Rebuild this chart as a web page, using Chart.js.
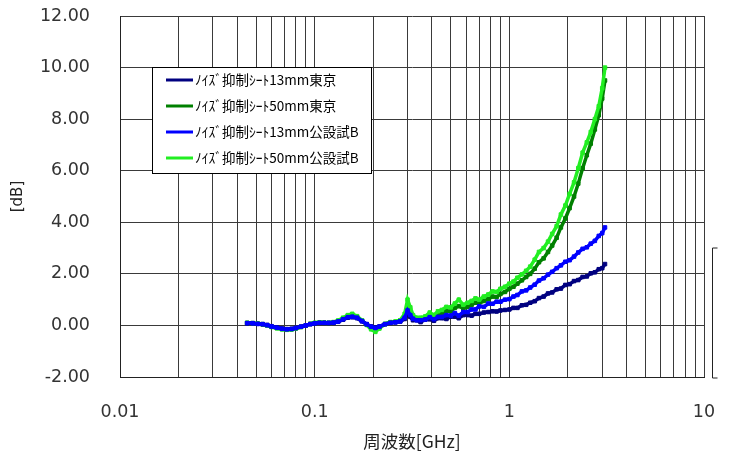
<!DOCTYPE html>
<html>
<head>
<meta charset="utf-8">
<script src="https://cdn.jsdelivr.net/npm/chart.js@4/dist/chart.umd.min.js"></script>
<style>
  html, body { margin: 0; padding: 0; background: #fff; }
  #wrap { width: 731px; height: 455px; position: relative; }
</style>
</head>
<body>
<div id="wrap"><canvas id="c" width="731" height="455"></canvas></div>
<script>
// Frequency points [GHz]
const freqGHz = [
  0.045,0.048,0.051,0.054,0.057,0.06,0.064,0.068,0.072,0.076,
  0.08,0.085,0.09,0.095,0.1,0.106,0.112,0.118,0.125,0.132,
  0.14,0.148,0.156,0.165,0.175,0.185,0.195,0.205,0.215,0.23,
  0.245,0.26,0.275,0.29,0.3,0.31,0.32,0.335,0.35,0.37,
  0.39,0.41,0.43,0.45,0.475,0.5,0.525,0.55,0.58,0.61,
  0.64,0.67,0.7,0.74,0.78,0.82,0.86,0.9,0.95,1.0,
  1.05,1.1,1.16,1.22,1.28,1.35,1.42,1.5,1.58,1.66,
  1.75,1.84,1.94,2.04,2.15,2.26,2.38,2.5,2.62,2.75,
  2.88,3.0,3.1
];

// Attenuation [dB] for each sheet / measurement site
const sheet13Tokyo = [
  0.08,0.09,0.06,0.05,0.02,-0.03,-0.08,-0.12,-0.14,-0.13,
  -0.1,-0.05,0.0,0.05,0.08,0.1,0.1,0.09,0.1,0.14,
  0.22,0.3,0.32,0.28,0.16,0.05,-0.04,-0.08,-0.04,0.05,
  0.1,0.12,0.15,0.25,
  0.42,0.33,0.2,0.2,0.13,0.22,0.24,0.18,0.28,0.28,
  0.25,0.34,0.34,0.28,0.4,0.4,0.38,0.45,0.45,0.5,
  0.52,0.55,0.54,0.58,0.6,0.62,0.68,0.68,0.78,0.8,
  0.88,0.94,1.06,1.12,1.24,1.28,1.4,1.43,1.57,1.6,
  1.72,1.76,1.88,1.9,2.02,2.06,2.18,2.22,2.38
];
const sheet50Tokyo = [
  0.1,0.08,0.07,0.04,0.0,-0.05,-0.1,-0.14,-0.16,-0.15,
  -0.11,-0.06,0.0,0.06,0.09,0.11,0.1,0.1,0.12,0.17,
  0.27,0.36,0.4,0.33,0.18,0.04,-0.1,-0.15,-0.08,0.05,
  0.12,0.14,0.18,0.35,
  0.7,0.48,0.3,0.22,0.22,0.28,0.4,0.3,0.42,0.45,
  0.55,0.55,0.68,0.75,0.65,0.72,0.8,0.88,0.85,0.95,
  1.02,1.12,1.1,1.22,1.3,1.42,1.5,1.62,1.75,1.88,
  2.0,2.2,2.45,2.6,2.85,3.1,3.4,3.8,4.15,4.55,
  5.0,5.5,6.1,6.6,7.05,7.6,8.15,8.8,9.5
];
const sheet13LabB = [
  0.09,0.08,0.06,0.05,0.01,-0.04,-0.09,-0.13,-0.15,-0.14,
  -0.1,-0.05,0.0,0.05,0.08,0.1,0.1,0.1,0.11,0.15,
  0.24,0.32,0.34,0.3,0.17,0.05,-0.05,-0.1,-0.05,0.05,
  0.1,0.12,0.16,0.3,
  0.58,0.4,0.26,0.2,0.2,0.23,0.32,0.24,0.33,0.33,
  0.4,0.38,0.48,0.38,0.52,0.52,0.62,0.62,0.74,0.72,
  0.85,0.84,0.92,0.92,1.0,1.02,1.12,1.18,1.32,1.36,
  1.47,1.58,1.74,1.83,1.97,2.08,2.22,2.33,2.47,2.53,
  2.67,2.83,2.97,3.03,3.17,3.28,3.47,3.58,3.8
];
const sheet50LabB = [
  0.1,0.09,0.07,0.05,0.0,-0.06,-0.11,-0.15,-0.17,-0.16,
  -0.12,-0.06,0.0,0.06,0.1,0.12,0.11,0.1,0.13,0.19,
  0.3,0.4,0.45,0.36,0.2,0.02,-0.15,-0.25,-0.12,0.06,
  0.13,0.15,0.2,0.45,
  1.0,0.7,0.4,0.3,0.3,0.35,0.5,0.4,0.55,0.6,
  0.72,0.7,0.85,1.0,0.8,0.88,0.95,1.05,1.0,1.12,
  1.2,1.32,1.3,1.42,1.5,1.62,1.7,1.85,1.98,2.12,
  2.28,2.55,2.85,3.0,3.25,3.55,3.85,4.3,4.65,5.1,
  5.55,6.1,6.7,7.1,7.5,8.0,8.5,9.2,10.0
];

const seriesNames = [
  'ﾉｲｽﾞ抑制ｼｰﾄ13mm東京',
  'ﾉｲｽﾞ抑制ｼｰﾄ50mm東京',
  'ﾉｲｽﾞ抑制ｼｰﾄ13mm公設試B',
  'ﾉｲｽﾞ抑制ｼｰﾄ50mm公設試B'
];
const seriesColors = ['#000080', '#008000', '#0000ff', '#22ee22'];
const seriesValues = [sheet13Tokyo, sheet50Tokyo, sheet13LabB, sheet50LabB];
const drawOrder = [2, 4, 1, 3];

// Axis ticks
const yTicks = [-2, 0, 2, 4, 6, 8, 10, 12];
const xGridValues = [
  0.01,0.02,0.03,0.04,0.05,0.06,0.07,0.08,0.09,
  0.1,0.2,0.3,0.4,0.5,0.6,0.7,0.8,0.9,
  1,2,3,4,5,6,7,8,9,10
];
const xTickLabels = { 0.01: '0.01', 0.1: '0.1', 1: '1', 10: '10' };

const tickFont = { family: '"DejaVu Sans", Verdana, sans-serif', size: 17.5 };

const datasets = seriesNames.map((name, i) => ({
  label: name,
  data: freqGHz.map((f, k) => ({ x: f, y: seriesValues[i][k] })),
  borderColor: seriesColors[i],
  backgroundColor: seriesColors[i],
  borderWidth: 3.5,
  pointStyle: 'rect',
  pointRadius: 2.5,
  pointBorderWidth: 1,
  tension: 0,
  order: drawOrder[i]
}));

// Legend box inside the plot plus the small bracket right of the plot
const panelPlugin = {
  id: 'panel',
  afterDraw(chart) {
    const ctx = chart.ctx;
    const a = chart.chartArea;
    const bx = a.left + 32, by = a.top + 51, bw = 219, bh = 106;
    ctx.save();
    ctx.fillStyle = '#fff';
    ctx.fillRect(bx, by, bw, bh);
    ctx.strokeStyle = '#000';
    ctx.lineWidth = 1;
    ctx.strokeRect(bx + 0.5, by + 0.5, bw, bh);
    ctx.font = '13.5px "Noto Sans CJK JP", sans-serif';
    ctx.textBaseline = 'middle';
    chart.data.datasets.forEach((ds, i) => {
      const yy = by + 13 + i * 26;
      ctx.strokeStyle = ds.borderColor;
      ctx.lineWidth = 3;
      ctx.beginPath();
      ctx.moveTo(bx + 14, yy);
      ctx.lineTo(bx + 41, yy);
      ctx.stroke();
      ctx.fillStyle = '#000';
      ctx.fillText(ds.label, bx + 43, yy);
    });
    // bracket
    const rx = a.right + 8.5;
    ctx.strokeStyle = '#222';
    ctx.lineWidth = 1;
    ctx.beginPath();
    ctx.moveTo(rx + 5, a.bottom - 129);
    ctx.lineTo(rx, a.bottom - 129);
    ctx.lineTo(rx, a.bottom + 1);
    ctx.lineTo(rx + 5, a.bottom + 1);
    ctx.stroke();
    ctx.restore();
  }
};

new Chart(document.getElementById('c'), {
  type: 'line',
  data: { datasets },
  plugins: [panelPlugin],
  options: {
    responsive: false,
    animation: false,
    layout: { padding: { top: 16, right: 27, left: 0, bottom: 0 } },
    plugins: { legend: { display: false }, tooltip: { enabled: false } },
    scales: {
      x: {
        type: 'logarithmic',
        min: 0.01,
        max: 10,
        afterBuildTicks(scale) {
          scale.ticks = xGridValues.map(v => ({ value: v }));
        },
        afterFit(scale) {
          scale.height = 78;
          scale.paddingLeft = 0;
          scale.paddingRight = 0;
        },
        grid: { color: '#3a3a3a', lineWidth: 1, drawTicks: false },
        border: { color: '#222', width: 1 },
        ticks: {
          autoSkip: false,
          maxRotation: 0,
          padding: 25,
          color: '#333',
          font: tickFont,
          callback(value) {
            return xTickLabels[value] !== undefined ? xTickLabels[value] : '';
          }
        },
        title: {
          display: true,
          text: '周波数[GHz]',
          color: '#222',
          font: { family: '"Noto Sans CJK JP", sans-serif', size: 17.5 },
          padding: { top: 0, bottom: 3 }
        }
      },
      y: {
        min: -2,
        max: 12,
        afterBuildTicks(scale) {
          scale.ticks = yTicks.map(v => ({ value: v }));
        },
        afterFit(scale) {
          scale.width = 120;
          scale.paddingTop = 0;
          scale.paddingBottom = 0;
        },
        grid: { color: '#3a3a3a', lineWidth: 1, drawTicks: false },
        border: { color: '#222', width: 1 },
        ticks: {
          padding: 30,
          color: '#333',
          font: tickFont,
          callback(value) { return value.toFixed(2); }
        },
        title: {
          display: true,
          text: '[dB]',
          color: '#222',
          font: { family: '"DejaVu Sans", Verdana, sans-serif', size: 15 },
          padding: { top: 9, bottom: 0 }
        }
      }
    }
  }
});
</script>
</body>
</html>
